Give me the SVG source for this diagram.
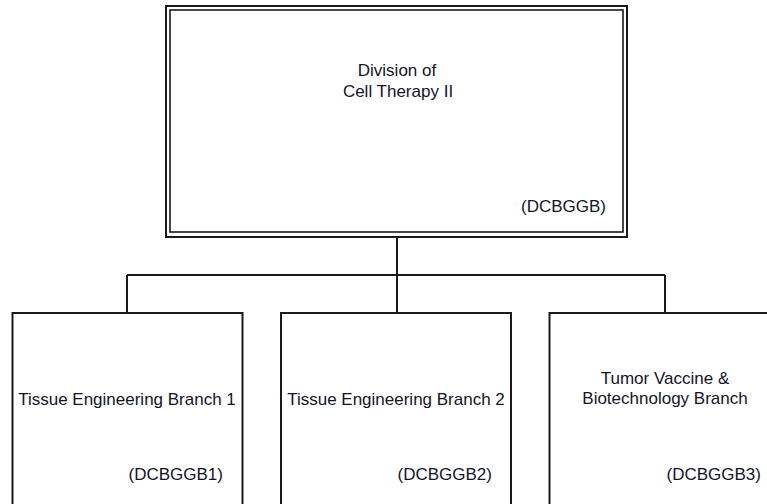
<svg xmlns="http://www.w3.org/2000/svg" width="767" height="504" viewBox="0 0 767 504">
<style>
.box{fill:#fff;stroke:#1a1a1a;stroke-width:2}
.inner{fill:none;stroke:#1a1a1a;stroke-width:1.6}
.conn{fill:none;stroke:#1a1a1a;stroke-width:2}
text{font-family:"Liberation Sans",Arial,sans-serif;font-size:17px;fill:#141428}
.c{text-anchor:middle}
.e{text-anchor:end}
</style>
<rect width="767" height="504" fill="#fff"/>
<g id="connectors">
<path class="conn" d="M397 237V275M127 275H665M127 275V313M397 275V313M665 275V313"/>
</g>
<g id="division">
<rect class="box" x="166" y="6" width="461" height="231"/>
<rect class="inner" x="170" y="10" width="453" height="222"/>
<text class="c" x="397" y="76">Division of</text>
<text class="c" x="398" y="96.5">Cell Therapy II</text>
<text class="e" x="606" y="212">(DCBGGB)</text>
</g>
<g id="branch1">
<rect class="box" x="12.5" y="313" width="230" height="200"/>
<text class="c" x="127" y="405">Tissue Engineering Branch 1</text>
<text class="e" x="223" y="480">(DCBGGB1)</text>
</g>
<g id="branch2">
<rect class="box" x="281" y="313" width="230" height="200"/>
<text class="c" x="396" y="405">Tissue Engineering Branch 2</text>
<text class="e" x="492" y="480">(DCBGGB2)</text>
</g>
<g id="branch3">
<rect class="box" x="549.5" y="313" width="230" height="200"/>
<text class="c" x="665" y="384">Tumor Vaccine &amp;</text>
<text class="c" x="665" y="404">Biotechnology Branch</text>
<text class="e" x="761" y="480">(DCBGGB3)</text>
</g>
</svg>
